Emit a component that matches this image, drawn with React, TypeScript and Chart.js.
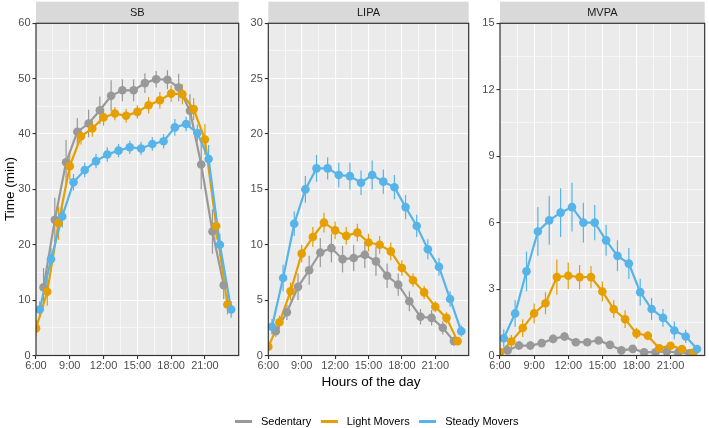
import React, { useEffect, useRef } from 'react';
import { Chart, registerables } from 'chart.js';

Chart.register(...registerables);

const FONT = '"Liberation Sans", Arial, Helvetica, sans-serif';

// ---------- data ----------
const hours = [6, 7, 8, 9, 10, 11, 12, 13, 14, 15, 16, 17, 18, 19, 20, 21, 22, 23];
const sedentaryHours = [7, 8, 9, 10, 11, 12, 13, 14, 15, 16, 17, 18, 19, 20, 21, 22, 23];

const seriesNames = ['Sedentary', 'Light Movers', 'Steady Movers'];
const seriesColors = ['#999999', '#E69F00', '#56B4E9'];
const dodgeOffsets = [-0.33, 0, 0.33];

const xTickValues = [6, 9, 12, 15, 18, 21];
const xTickLabels = ['6:00', '9:00', '12:00', '15:00', '18:00', '21:00'];

const sbYTicks = [0, 10, 20, 30, 40, 50, 60];
const lipaYTicks = [0, 5, 10, 15, 20, 25, 30];
const mvpaYTicks = [0, 3, 6, 9, 12, 15];

const panelTitles = ['SB', 'LIPA', 'MVPA'];

// SB
const sbSedentary = [12.3, 24.5, 34.9, 40.4, 41.9, 44.3, 46.9, 47.9, 47.9, 49.2, 49.9, 49.8, 48.4, 44.2, 34.5, 22.4, 12.7];
const sbSedentaryErr = [3.5, 4.0, 4.0, 2.5, 2.5, 2.5, 2.8, 2.0, 2.0, 1.8, 1.5, 1.7, 2.5, 3.0, 4.5, 4.0, 2.5];
const sbLight = [4.9, 11.5, 23.9, 34.2, 39.6, 41.0, 43.0, 43.7, 43.3, 44.0, 45.2, 46.1, 47.3, 47.2, 44.5, 39.0, 23.4, 9.2];
const sbLightErr = [1.5, 2.5, 3.0, 2.5, 1.5, 1.5, 1.5, 1.2, 1.2, 1.2, 1.5, 1.5, 1.5, 1.8, 2.0, 2.8, 2.5, 1.8];
const sbSteady = [8.3, 17.4, 25.1, 31.3, 33.5, 35.1, 36.3, 37.0, 37.6, 37.4, 38.2, 38.7, 41.2, 41.8, 40.2, 35.5, 20.0, 8.3];
const sbSteadyErr = [1.5, 2.0, 2.0, 1.5, 1.3, 1.3, 1.3, 1.2, 1.2, 1.2, 1.2, 1.3, 1.5, 1.3, 1.5, 2.5, 2.0, 1.5];

// LIPA
const lipaSedentary = [2.2, 3.9, 6.2, 7.7, 9.3, 9.7, 8.7, 8.8, 9.1, 8.5, 7.2, 6.4, 4.9, 3.5, 3.4, 2.5, 1.3];
const lipaSedentaryErr = [0.5, 0.7, 1.2, 1.3, 1.3, 1.3, 1.2, 1.2, 1.2, 1.3, 1.1, 1.0, 0.9, 0.7, 0.7, 0.6, 0.4];
const lipaLight = [0.8, 3.0, 5.8, 9.2, 10.7, 12.0, 11.3, 10.8, 11.1, 10.2, 10.0, 9.4, 7.9, 6.8, 5.7, 4.4, 3.4, 1.3];
const lipaLightErr = [0.4, 0.6, 0.8, 0.8, 0.9, 0.9, 0.8, 0.8, 0.8, 0.8, 0.8, 0.8, 0.7, 0.6, 0.6, 0.5, 0.5, 0.3];
const lipaSteady = [2.6, 7.0, 11.9, 15.0, 16.9, 16.9, 16.3, 16.2, 15.6, 16.3, 15.7, 15.2, 13.4, 11.7, 9.6, 8.0, 5.1, 2.2];
const lipaSteadyErr = [0.7, 1.2, 1.1, 1.2, 1.2, 1.0, 1.1, 1.2, 1.1, 1.3, 1.1, 1.1, 1.1, 1.0, 0.9, 0.8, 0.7, 0.5];

// MVPA
const mvpaSedentary = [0.23, 0.45, 0.45, 0.56, 0.75, 0.86, 0.6, 0.6, 0.68, 0.48, 0.23, 0.3, 0.15, 0.15, 0.18, 0.13, 0.1];
const mvpaSedentaryErr = [0.1, 0.2, 0.2, 0.15, 0.2, 0.2, 0.15, 0.15, 0.15, 0.15, 0.1, 0.1, 0.1, 0.1, 0.1, 0.1, 0.1];
const mvpaLight = [0.15, 0.63, 1.24, 1.9, 2.36, 3.54, 3.6, 3.54, 3.54, 2.89, 2.09, 1.64, 1.0, 0.89, 0.33, 0.44, 0.29, 0.12];
const mvpaLightErr = [0.15, 0.3, 0.4, 0.45, 0.5, 0.8, 0.6, 0.55, 0.5, 0.45, 0.4, 0.4, 0.25, 0.2, 0.15, 0.15, 0.1, 0.1];
const mvpaSteady = [0.78, 1.9, 3.8, 5.6, 6.1, 6.45, 6.7, 6.0, 6.0, 5.2, 4.5, 4.15, 2.86, 2.1, 1.7, 1.13, 0.86, 0.29];
const mvpaSteadyErr = [0.4, 0.6, 0.9, 1.1, 1.1, 1.1, 1.1, 0.9, 0.8, 0.7, 0.7, 0.7, 0.6, 0.5, 0.4, 0.4, 0.3, 0.15];

// ---------- layout (styles only) ----------
const CANVAS_H = 376;
const X_AXIS_H = 20.5;
const PAD_TOP = 23.3;
const STRIP_H = 21.6;

type PanelCfg = {
  title: string;
  left: number;
  width: number;
  yAxisWidth: number;
  padRight: number;
  yTicks: number[];
  values: number[][];
  errs: number[][];
};

const panels: PanelCfg[] = [
  {
    title: panelTitles[0], left: 0, width: 243, yAxisWidth: 36, padRight: 0, yTicks: sbYTicks,
    values: [sbSedentary, sbLight, sbSteady], errs: [sbSedentaryErr, sbLightErr, sbSteadyErr],
  },
  {
    title: panelTitles[1], left: 243, width: 230, yAxisWidth: 25.3, padRight: 0, yTicks: lipaYTicks,
    values: [lipaSedentary, lipaLight, lipaSteady], errs: [lipaSedentaryErr, lipaLightErr, lipaSteadyErr],
  },
  {
    title: panelTitles[2], left: 473, width: 236, yAxisWidth: 27, padRight: 2, yTicks: mvpaYTicks,
    values: [mvpaSedentary, mvpaLight, mvpaSteady], errs: [mvpaSedentaryErr, mvpaLightErr, mvpaSteadyErr],
  },
];

function withMinors(majors: number[], max: number) {
  const step = majors[1] - majors[0];
  const out: { value: number; minor: boolean }[] = [];
  majors.forEach((m) => {
    out.push({ value: m, minor: false });
    const mid = m + step / 2;
    if (mid < max) out.push({ value: mid, minor: true });
  });
  return out;
}

function gridOpts() {
  return {
    color: '#FFFFFF',
    lineWidth: (c: any) => (c.tick && c.tick.minor ? 0.55 : 1.1),
    tickColor: (c: any) => (c.tick && c.tick.minor ? 'rgba(0,0,0,0)' : '#333333'),
    tickLength: 3.5,
    tickWidth: 1.1,
    drawTicks: true,
    drawOnChartArea: true,
  };
}

const decoPlugin = {
  id: 'facetDeco',
  beforeDraw(chart: any) {
    const { ctx, chartArea: a } = chart;
    ctx.save();
    ctx.fillStyle = '#EBEBEB';
    ctx.fillRect(a.left, a.top, a.right - a.left, a.bottom - a.top);
    ctx.restore();
  },
  afterDraw(chart: any) {
    const { ctx, chartArea: a } = chart;
    const title = chart.options.plugins.facetDeco.title;
    ctx.save();
    ctx.fillStyle = '#D9D9D9';
    ctx.fillRect(a.left, a.top - STRIP_H, a.right - a.left, STRIP_H);
    ctx.fillStyle = '#1A1A1A';
    ctx.font = `11px ${FONT}`;
    ctx.textAlign = 'center';
    ctx.textBaseline = 'middle';
    ctx.fillText(title, (a.left + a.right) / 2, a.top - STRIP_H / 2 + 0.5);
    ctx.strokeStyle = '#333333';
    ctx.lineWidth = 1.2;
    ctx.strokeRect(a.left, a.top, a.right - a.left, a.bottom - a.top);
    ctx.restore();
  },
};

function Panel({ cfg }: { cfg: PanelCfg }) {
  const ref = useRef<HTMLCanvasElement>(null);
  useEffect(() => {
    const yMax = cfg.yTicks[cfg.yTicks.length - 1];
    const datasets: any[] = [];
    const seriesX = (s: number) => (s === 0 ? sedentaryHours : hours).map((h) => h + dodgeOffsets[s]);

    // error bars (bottom layer)
    [0, 1, 2].forEach((s) => {
      const xs = seriesX(s);
      const pts: any[] = [];
      xs.forEach((x, i) => {
        const v = cfg.values[s][i];
        const e = cfg.errs[s][i];
        pts.push({ x, y: v - e }, { x, y: v + e }, { x, y: null });
      });
      datasets.push({
        label: seriesNames[s] + ' CI', data: pts, borderColor: seriesColors[s], borderWidth: 1.2,
        pointRadius: 0, spanGaps: false, tension: 0, order: 8 - s, clip: 0,
      });
    });
    // lines
    [0, 1, 2].forEach((s) => {
      const xs = seriesX(s);
      datasets.push({
        label: seriesNames[s], data: xs.map((x, i) => ({ x, y: cfg.values[s][i] })),
        borderColor: seriesColors[s], borderWidth: 2.2, pointRadius: 0, tension: 0, order: 5 - s, clip: 0,
      });
    });
    // points
    [0, 1, 2].forEach((s) => {
      const xs = seriesX(s);
      datasets.push({
        label: seriesNames[s] + ' pts', data: xs.map((x, i) => ({ x, y: cfg.values[s][i] })),
        showLine: false, pointRadius: 4.3, pointHoverRadius: 4.3, pointBackgroundColor: seriesColors[s],
        pointBorderColor: seriesColors[s], pointBorderWidth: 0, borderColor: seriesColors[s],
        order: 2 - s, clip: 0,
      });
    });

    const chart = new Chart(ref.current as HTMLCanvasElement, {
      type: 'line',
      data: { datasets },
      plugins: [decoPlugin as any],
      options: {
        animation: false,
        responsive: false,
        events: [],
        layout: { padding: { top: PAD_TOP, right: cfg.padRight, left: 0, bottom: 0 } },
        plugins: {
          legend: { display: false },
          tooltip: { enabled: false },
          facetDeco: { title: cfg.title },
        } as any,
        scales: {
          x: {
            type: 'linear',
            min: 6,
            max: 24,
            bounds: 'data',
            border: { display: false },
            grid: gridOpts() as any,
            afterBuildTicks: (scale: any) => { scale.ticks = withMinors(xTickValues, 24); },
            afterFit: (scale: any) => { scale.height = X_AXIS_H; },
            ticks: {
              autoSkip: false,
              maxRotation: 0,
              minRotation: 0,
              padding: 0,
              color: '#4D4D4D',
              font: { family: FONT, size: 11 },
              callback: (v: any) => {
                const i = xTickValues.indexOf(Number(v));
                return i >= 0 ? xTickLabels[i] : '';
              },
            },
          },
          y: {
            type: 'linear',
            min: 0,
            max: yMax,
            bounds: 'data',
            border: { display: false },
            grid: gridOpts() as any,
            afterBuildTicks: (scale: any) => { scale.ticks = withMinors(cfg.yTicks, yMax); },
            afterFit: (scale: any) => { scale.width = cfg.yAxisWidth; },
            ticks: {
              autoSkip: false,
              padding: 2,
              color: '#4D4D4D',
              font: { family: FONT, size: 11 },
              callback: (v: any) => {
                const i = cfg.yTicks.indexOf(Number(v));
                return i >= 0 ? String(cfg.yTicks[i]) : '';
              },
            },
          },
        },
      } as any,
    });
    return () => chart.destroy();
  }, []);
  return (
    <canvas
      ref={ref}
      width={cfg.width}
      height={CANVAS_H}
      style={{ position: 'absolute', left: cfg.left, top: 0, width: cfg.width, height: CANVAS_H }}
    />
  );
}

export default function App() {
  return (
    <div style={{ position: 'absolute', left: 0, top: 0, width: 709, height: 428, background: '#FFFFFF', overflow: 'hidden', fontFamily: FONT }}>
      {panels.map((p) => (
        <Panel key={p.title} cfg={p} />
      ))}
      <div style={{ position: 'absolute', left: 10, top: 189, width: 0, height: 0 }}>
        <div
          style={{
            position: 'absolute', left: 0, top: 0, transform: 'translate(-50%, -50%) rotate(-90deg)',
            whiteSpace: 'nowrap', fontSize: 13.5, color: '#000000', lineHeight: '16px',
          }}
        >
          Time (min)
        </div>
      </div>
      <div style={{ position: 'absolute', left: 371, top: 382, width: 0, height: 0 }}>
        <div
          style={{
            position: 'absolute', left: 0, top: 0, transform: 'translate(-50%, -50%)',
            whiteSpace: 'nowrap', fontSize: 13.5, color: '#000000', lineHeight: '16px',
          }}
        >
          Hours of the day
        </div>
      </div>
      <div
        style={{
          position: 'absolute', left: 235, top: 413, height: 16, display: 'flex', alignItems: 'center',
          fontSize: 11, color: '#000000', whiteSpace: 'nowrap',
        }}
      >
        {seriesNames.map((n, i) => (
          <React.Fragment key={n}>
            <div style={{ width: 17, height: 3, background: seriesColors[i], marginRight: 9 }} />
            <span style={{ marginRight: i < seriesNames.length - 1 ? 9.5 : 0, lineHeight: '16px' }}>{n}</span>
          </React.Fragment>
        ))}
      </div>
    </div>
  );
}
